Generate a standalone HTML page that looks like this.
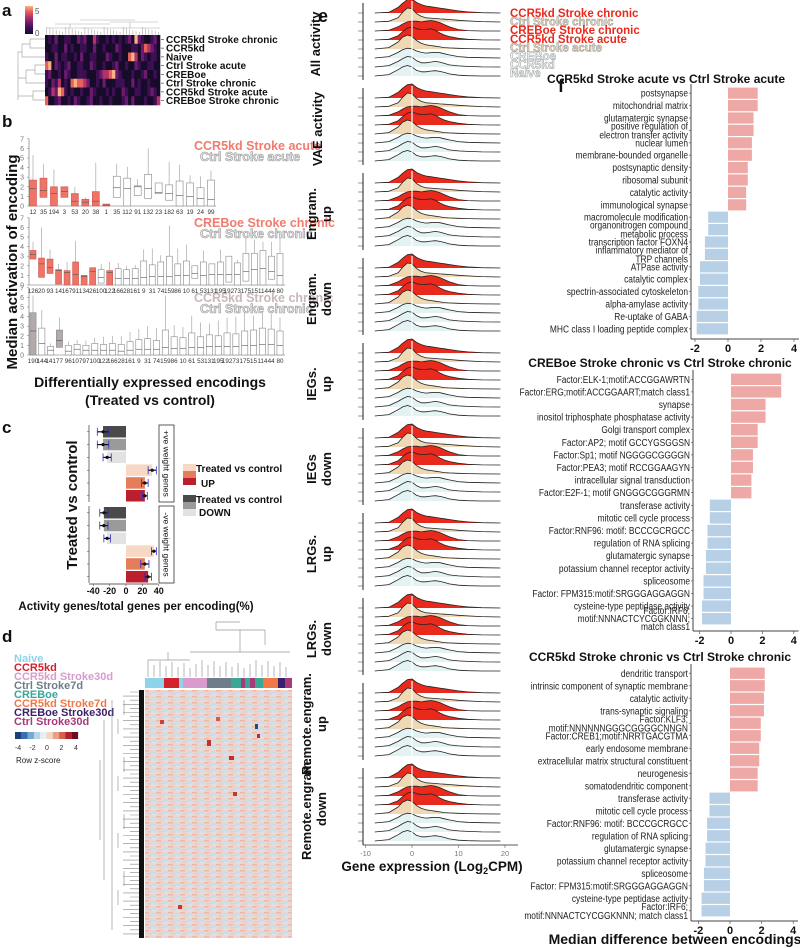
<!DOCTYPE html>
<html><head><meta charset="utf-8">
<style>
html,body{margin:0;padding:0;background:#fff}
svg{display:block;font-family:"Liberation Sans",Arial,sans-serif}
</style></head>
<body>
<svg id="fig" width="800" height="948" viewBox="0 0 800 948" xmlns="http://www.w3.org/2000/svg">
<defs>
<pattern id="hmtex" width="12" height="6" patternUnits="userSpaceOnUse">
<rect width="12" height="6" fill="#ead6d3"/>
<rect x="0" y="0" width="5" height="1.5" fill="#efb9a6"/>
<rect x="6" y="1.5" width="6" height="1.5" fill="#c7deed"/>
<rect x="2" y="3" width="5" height="1.5" fill="#f2cbbd"/>
<rect x="8" y="4.5" width="4" height="1.5" fill="#d2e4ef"/>
<rect x="0" y="4.5" width="3" height="1.5" fill="#cfe1ec"/>
</pattern>
</defs>
<g id="panelA"></g>
<g id="panelB"></g>
<g id="panelC"></g>
<g id="panelD"></g>
<g id="panelE"></g>
<g id="panelF"></g>
</svg>
<script>
// ---------- DATA ----------
const aRows = ["CCR5kd Stroke chronic","CCR5kd","Naive","Ctrl Stroke acute","CREBoe","Ctrl Stroke chronic","CCR5kd Stroke acute","CREBoe Stroke chronic"];
const aMatrix = [
"010200110021200310010101012052100120",
"001100201001100200100021000110243210",
"100201100102001100021001004530210110",
"450210120011002100100120010021001100",
"120010210011100012334521000100120010",
"102130104544320010200011100201001000",
"013254101001002100010100210011001210",
"400120010210012001001000120200010013"
];
const b1Labels = ["12","35","194","3","53","20","38","1","35","112","91","132","23","182","63","19","24","99"];
const b1Q1  = [0,0.9,0,0.9,0,0,0,0,0.9,0,1.1,0.8,1.3,0.6,0,0,0,0];
const b1Med = [1.8,1.6,1.3,1.5,0.5,0.4,0.5,0.1,1.9,1.8,2,1.8,1.4,1.3,1.1,1,0.8,0.7];
const b1Q3  = [2.7,2.9,2,2,1.3,0.7,1.5,0.2,3.1,2.9,2.1,3.3,2.4,2.2,2.6,2.4,1.9,2.7];
const b1Hi  = [5.3,4.4,3.8,2,2,0.9,4.5,0.2,4.4,4.1,2.8,6,2.4,4.6,4.3,3.2,3.1,3.7];
const b1Fill= [1,1,1,1,1,1,1,1,0,0,0,0,0,0,0,0,0,0];
const b2Labels = ["126","20","93","14","167","91","134","26","100","122","166","28","161","9","31","74","159","86","10","61","53","131","195","192","73","175","15","114","44","80"];
const b2Q1  = [2.7,0.8,1.2,0.1,0,0,0,0,0.2,0,0,0,0,0,0,0,0,0,0,0.7,0,0,0,0.3,0,0.4,0,0,0.6,0];
const b2Med = [3.2,2.2,1.8,1.5,1.3,1.1,0.9,1.4,0.8,1.3,0.7,0.7,0.7,0.8,0.9,0.9,0.9,1,1,1.2,1,1.1,1.1,1.1,1.1,1.4,1.6,1.7,1.4,1];
const b2Q3  = [3.6,2.8,2.7,1.6,1.5,2.4,1,1.8,1.6,1.5,1.7,1.6,1.7,2.5,2.1,2.4,3,2.2,2.5,2,2.4,2.2,2.4,3,2.3,3.3,3.3,3.6,3,3.3];
const b2Hi  = [4.5,6,3.7,2.2,2.4,4.6,1,1.8,2.2,2.4,2.3,2,2.1,3.7,3.8,3.1,6.2,3.8,4.2,2,3.6,2.2,3.7,3,2.6,4.9,4.7,4.5,4.5,5.5];
const b2Fill= [1,1,1,1,1,1,1,1,0,1,0,0,0,0,0,0,0,0,0,0,0,0,0,0,0,0,0,0,0,0];
const b3Labels = ["190","144","141","77","96","107","97","100","122","166","28","161","9","31","74","159","86","10","61","53","131","195","192","73","175","15","114","44","80"];
const b3Q1  = [0,0,0,0.8,0,0,0,0,0,0,0,0,0,0,0,0,0,0,0,0,0,0,0,0,0,0,0,0,0];
const b3Med = [2.5,1.2,0.5,1.5,0.4,0.6,0.5,0.5,0.5,0.5,0.4,0.5,0.6,0.6,0.6,0.8,0.7,0.7,0.8,0.8,0.9,0.9,0.9,0.9,1,1,1.1,1.1,1];
const b3Q3  = [4.4,2.8,0.9,2.6,1,1.1,1,1.2,1.1,1.2,1.1,1.4,1.6,1.7,1.5,2.6,1.9,1.8,2.3,1.9,2.1,2,2.3,2.2,2.5,2.6,2.8,2.7,2.5];
const b3Hi  = [6.2,4.7,1.2,3.9,1.4,1.6,1.5,1.8,1.9,2,2,2.4,2.7,3,2.8,6.2,3.1,2.9,4.1,3.4,3.3,3.6,3.9,4,4.7,4.1,4.6,4.3,3.9];
const b3Fill= [2,0,0,2,0,0,0,0,0,0,0,0,0,0,0,0,0,0,0,0,0,0,0,0,0,0,0,0,0];
const cPos = [-28,-28,-23,32,23,23];
const cNeg = [-27,-27,-23,34,23,27];
const cErrPos = [7,7,5,5,4,3];
const cErrNeg = [5,5,4,3,5,4];
const ridgeX = [-8,-5,-3,-2,-1,0,1,2,3,4,5,6,7,8,10,12,15,19];
const ridgeRows = [
[0,0.05,0.4,0.7,0.95,1,0.75,0.6,0.5,0.45,0.4,0.35,0.3,0.25,0.15,0.08,0.02,0],
[0,0.05,0.3,0.7,1,0.95,0.6,0.4,0.3,0.28,0.25,0.22,0.2,0.18,0.12,0.08,0.03,0],
[0,0.05,0.3,0.5,0.65,0.7,0.7,0.65,0.7,0.75,0.7,0.6,0.45,0.3,0.1,0.03,0,0],
[0,0.05,0.3,0.6,0.85,0.95,0.8,0.75,0.75,0.8,0.7,0.5,0.35,0.25,0.12,0.05,0.01,0],
[0,0.1,0.5,0.85,1,0.9,0.6,0.4,0.3,0.25,0.2,0.15,0.1,0.08,0.05,0.03,0.01,0],
[0,0.1,0.4,0.6,0.7,0.65,0.5,0.4,0.35,0.38,0.4,0.38,0.3,0.22,0.1,0.05,0.02,0],
[0,0.1,0.4,0.6,0.75,0.7,0.45,0.3,0.3,0.35,0.4,0.35,0.25,0.15,0.08,0.04,0.01,0],
[0,0.1,0.45,0.65,0.75,0.65,0.4,0.3,0.3,0.35,0.38,0.33,0.25,0.15,0.06,0.02,0,0]
];
const ridgeGroups = [["All activity"],["VAE activity"],["Engram.","up"],["Engram.","down"],["IEGs.","up"],["IEGs","down"],["LRGs.","up"],["LRGs.","down"],["Remote.engram.","up"],["Remote.engram.","down"]];
const f1Labels = ["postsynapse","mitochondrial matrix","glutamatergic synapse","positive regulation of|electron transfer activity","nuclear lumen","membrane-bounded organelle","postsynaptic density","ribosomal subunit","catalytic activity","immunological synapse","macromolecule modification","organonitrogen compound|metabolic process","transcription factor FOXN4","inflammatory mediator of|TRP channels","ATPase activity","catalytic complex","spectrin-associated cytoskeleton","alpha-amylase activity","Re-uptake of GABA","MHC class I loading peptide complex"];
const f1Values = [1.8,1.8,1.55,1.55,1.45,1.45,1.2,1.2,1.1,1.1,-1.2,-1.2,-1.4,-1.4,-1.7,-1.7,-1.8,-1.8,-1.9,-1.9];
const f2Labels = ["Factor:ELK-1;motif:ACCGGAWRTN","Factor:ERG;motif:ACCGGAART;match class1","synapse","inositol triphosphate phosphatase activity","Golgi transport complex","Factor:AP2; motif GCCYGSGGSN","Factor:Sp1; motif NGGGGCGGGGN","Factor:PEA3; motif RCCGGAAGYN","intracellular signal transduction","Factor:E2F-1; motif GNGGGCGGGRMN","transferase activity","mitotic cell cycle process","Factor:RNF96: motif: BCCCGCRGCC","regulation of RNA splicing","glutamatergic synapse","potassium channel receptor activity","spliceosome","Factor: FPM315:motif:SRGGGAGGAGGN","cysteine-type peptidase activity","Factor:IRF6;|motif:NNNACTCYCGGKNNN;|match class1"];
const f2Values = [3.2,3.2,2.2,2.2,1.7,1.7,1.4,1.4,1.3,1.3,-1.35,-1.35,-1.5,-1.5,-1.6,-1.6,-1.75,-1.75,-1.85,-1.85];
const f3Labels = ["dendritic transport","intrinsic component of synaptic membrane","catalytic activity","trans-synaptic signaling","Factor:KLF3;|motif:NNNNNNGGGCGGGGCNNGN","Factor:CREB1;motif:NRRTGACGTMA","early endosome membrane","extracellular matrix structural constituent","neurogenesis","somatodendritic component","transferase activity","mitotic cell cycle process","Factor:RNF96: motif: BCCCGCRGCC","regulation of RNA splicing","glutamatergic synapse","potassium channel receptor activity","spliceosome","Factor: FPM315:motif:SRGGGAGGAGGN","cysteine-type peptidase activity","Factor:IRF6;|motif:NNNACTCYCGGKNNN; match class1"];
const f3Values = [2.2,2.2,2.15,2.15,1.95,1.95,1.85,1.85,1.75,1.75,-1.3,-1.3,-1.45,-1.45,-1.55,-1.55,-1.65,-1.65,-1.8,-1.8];
const fTicks = [-2,0,2,4];

// ---------- HELPERS ----------
const NS="http://www.w3.org/2000/svg";
function mk(parent,tag,attrs,txt){const e=document.createElementNS(NS,tag);for(const k in attrs)e.setAttribute(k,attrs[k]);if(txt!==undefined)e.textContent=txt;parent.appendChild(e);return e;}
function txt(parent,x,y,s,size,opts){opts=opts||{};const e=mk(parent,'text',{x:x,y:y,'font-size':size,fill:opts.fill||'#111','font-weight':opts.bold?'bold':'normal','text-anchor':opts.anchor||'start'},s);if(opts.stroke){e.setAttribute('stroke',opts.stroke);e.setAttribute('stroke-width',opts.sw||0.6);}if(opts.tr)e.setAttribute('transform',opts.tr);return e;}

// ---------- PANEL A ----------
(function(){
const g=document.getElementById('panelA');
const l=txt(g,2,16,'a',17,{bold:true});
const cmap=['#160b28','#3b0f52','#6b1a6e','#b0336a','#e8605a','#fbb480'];
const grad=mk(g,'linearGradient',{id:'magma',x1:0,y1:1,x2:0,y2:0});
cmap.forEach((c,i)=>mk(grad,'stop',{offset:i/5,'stop-color':c}));
const cb=mk(g,'rect',{x:25,y:6,width:8,height:28,fill:'url(#magma)'});

txt(g,35,14,'5',8,{fill:'#555'});txt(g,35,36,'0',8,{fill:'#555'});
const x0=45,y0=35,w=115,h=70,nc=aMatrix[0].length,cw=w/nc,rh=h/aRows.length;
aMatrix.forEach((row,r)=>{[...row].forEach((d,c)=>{const e=mk(g,'rect',{x:x0+c*cw,y:y0+r*rh,width:cw+0.3,height:rh+0.3,fill:cmap[+d]});});
 const t=txt(g,166,y0+r*rh+rh/2+3.5,aRows[r],10,{bold:true});
 mk(g,'line',{x1:161,x2:164,y1:y0+r*rh+rh/2,y2:y0+r*rh+rh/2,stroke:'#333','stroke-width':0.6});});
let p='';for(let i=0;i<nc;i++){const x=x0+cw*(i+0.5);p+=`M${x} 35V${27+((i*7)%6)}`;}
p+='M46 28H160M55 24H110M110 22H158M80 20H135M70 24V28M130 22V28';
mk(g,'path',{d:p,stroke:'#aaa','stroke-width':0.6,fill:'none'});
mk(g,'path',{d:'M45 39H30V48H45M30 44H22V57H45M22 52H18V100M45 65H35V74H45M35 70H26V83H45M26 78H18M45 91H33V100H45M33 96H18',stroke:'#aaa','stroke-width':0.7,fill:'none'});
})();

// ---------- PANEL B ----------
(function(){
const g=document.getElementById('panelB');
const l=txt(g,2,127,'b',17,{bold:true});
const subs=[
 {L:b1Labels,q1:b1Q1,md:b1Med,q3:b1Q3,hi:b1Hi,f:b1Fill,y0:206,xs:33,xe:211,ax:29,t1:'CCR5kd Stroke acute',t2:'Ctrl Stroke acute',ty:150,c1:'#f07b6e'},
 {L:b2Labels,q1:b2Q1,md:b2Med,q3:b2Q3,hi:b2Hi,f:b2Fill,y0:285,xs:33,xe:280,ax:29,t1:'CREBoe Stroke chronic',t2:'Ctrl Stroke chronic',ty:227,c1:'#f07b6e'},
 {L:b3Labels,q1:b3Q1,md:b3Med,q3:b3Q3,hi:b3Hi,f:b3Fill,y0:355,xs:33,xe:280,ax:29,t1:'CCR5kd Stroke chronic',t2:'Ctrl Stroke chronic',ty:302,c1:'#c8b8b8'}
];
const u=9.6;
subs.forEach((s,si)=>{
 const sg=mk(g,'g',{});
 const yv=v=>s.y0-v*u;
 mk(sg,'line',{x1:s.ax,x2:s.ax,y1:yv(7),y2:s.y0,stroke:'#666','stroke-width':0.6});
 mk(sg,'line',{x1:s.ax,x2:s.xe+5,y1:s.y0,y2:s.y0,stroke:'#666','stroke-width':0.6});
 for(let t=0;t<=7;t++){txt(sg,24,yv(t)+2.5,String(t),7,{fill:'#777',anchor:'end'});mk(sg,'line',{x1:s.ax-2,x2:s.ax,y1:yv(t),y2:yv(t),stroke:'#777','stroke-width':0.5});}
 const n=s.L.length,step=(s.xe-s.xs)/(n-1),bw=Math.min(7,step*0.7);
 s.L.forEach((lab,i)=>{
  const cx=s.xs+i*step;
  const fill=s.f[i]===1?'#ee7466':(s.f[i]===2?'#b5aaaa':'#fff');
  mk(sg,'line',{x1:cx,x2:cx,y1:yv(s.hi[i]),y2:yv(s.q3[i]),stroke:'#999','stroke-width':0.6});
  const b=mk(sg,'rect',{x:cx-bw/2,y:yv(s.q3[i]),width:bw,height:Math.max(0.5,(s.q3[i]-s.q1[i])*u),fill:fill,stroke:s.f[i]===1?'#c55':'#888','stroke-width':0.6});
  
  mk(sg,'line',{x1:cx-bw/2,x2:cx+bw/2,y1:yv(s.md[i]),y2:yv(s.md[i]),stroke:'#555','stroke-width':0.6});
  txt(sg,cx,s.y0+8,lab,6.3,{fill:'#333',anchor:'middle'});
 });
 const a=txt(sg,s.ax+165,s.ty,s.t1,12.5,{bold:true,fill:s.c1});
 const b2=txt(sg,s.ax+171,s.ty+11,s.t2,12.5,{bold:true,fill:'#e6e6e6',stroke:'#999',sw:0.6});
});
const yt=txt(g,0,0,'Median activation of encoding',15,{bold:true,anchor:'middle',tr:'translate(17,262) rotate(-90)'});

const xt=txt(g,150,387,'Differentially expressed encodings',14,{bold:true,anchor:'middle'});
const xt2=txt(g,150,405,'(Treated vs control)',14,{bold:true,anchor:'middle'});
})();

// ---------- PANEL C ----------
(function(){
const g=document.getElementById('panelC');
const l=txt(g,2,433,'c',17,{bold:true});
const cols=['#4a4a4a','#9a9a9a','#e2e2e2','#f7d8c5','#e57d5c','#bb1f2d'];
const x0=126,k=0.82;const xv=v=>x0+v*k;
const facets=[{vals:cPos,err:cErrPos,top:425,lab:'+ve weight genes'},{vals:cNeg,err:cErrNeg,top:506,lab:'-ve weight genes'}];
facets.forEach((f,fi)=>{
 const fg=mk(g,'g',{});
 const sp=12.8;
 f.vals.forEach((v,i)=>{
  const y=f.top+1+i*sp;
  const b=mk(fg,'rect',{x:Math.min(xv(0),xv(v)),y:y,width:Math.abs(v)*k,height:11.5,fill:cols[i]});
  
  const ym=y+5.8;
  mk(fg,'line',{x1:xv(v-f.err[i]),x2:xv(v+f.err[i]),y1:ym,y2:ym,stroke:'#111','stroke-width':1.2});
  mk(fg,'line',{x1:xv(v-f.err[i]),x2:xv(v-f.err[i]),y1:ym-4,y2:ym+4,stroke:'#2a2ad0','stroke-width':0.8});
  mk(fg,'line',{x1:xv(v+f.err[i]),x2:xv(v+f.err[i]),y1:ym-4,y2:ym+4,stroke:'#2a2ad0','stroke-width':0.8});
  mk(fg,'circle',{cx:xv(v),cy:ym,r:1.6,fill:'#111'});
  mk(fg,'line',{x1:87,x2:89,y1:ym,y2:ym,stroke:'#333','stroke-width':0.5});
 });
 mk(fg,'line',{x1:89,x2:89,y1:f.top,y2:f.top+77,stroke:'#333','stroke-width':0.7});
 mk(fg,'rect',{x:159,y:f.top,width:15,height:77,fill:'#fff',stroke:'#333','stroke-width':0.8});
 txt(fg,0,0,f.lab,8.5,{anchor:'middle',tr:`translate(163.5,${f.top+38.5}) rotate(90)`});
});
mk(g,'line',{x1:89,x2:158,y1:584,y2:584,stroke:'#333','stroke-width':0.7});
[-40,-20,0,20,40].forEach(t=>{mk(g,'line',{x1:xv(t),x2:xv(t),y1:584,y2:586,stroke:'#333','stroke-width':0.5});txt(g,xv(t),594,String(t),9,{bold:true,anchor:'middle'});});
const yt=txt(g,0,0,'Treated vs control',15,{bold:true,anchor:'middle',tr:'translate(77,505) rotate(-90)'});
const xt=txt(g,136,610,'Activity genes/total genes per encoding(%)',11.5,{bold:true,anchor:'middle'});
const lg=mk(g,'g',{});
[['#f7d8c5',464],['#e57d5c',471],['#bb1f2d',478],['#4a4a4a',495],['#9a9a9a',502],['#e2e2e2',509]].forEach(a=>mk(lg,'rect',{x:183,y:a[1],width:13,height:7,fill:a[0]}));
txt(lg,196,472,'Treated vs control',10,{bold:true});txt(lg,201,487,'UP',10,{bold:true});
txt(lg,196,503,'Treated vs control',10,{bold:true});txt(lg,199,516,'DOWN',10,{bold:true});
})();

// ---------- PANEL D ----------
(function(){
const g=document.getElementById('panelD');
const l=txt(g,2,642,'d',17,{bold:true});
const groups=[['Naive','#8fd3ea'],['CCR5kd','#d1222b'],['CCR5kd Stroke30d','#d99bcc'],['Ctrl Stroke7d','#6f7c8a'],['CREBoe','#3aa796'],['CCR5kd Stroke7d','#f07846'],['CREBoe Stroke30d','#3b1f6b'],['Ctrl Stroke30d','#a8397a']];
groups.forEach((gr,i)=>{const t=txt(g,14,662+i*9,gr[0],11,{bold:true,fill:gr[1]});});
const zc=['#1f3f7a','#3b6fb0','#77a9d1','#b9d6e8','#e8eef2','#f4d6c6','#e9a184','#d7604d','#b21f2d','#6b0f1f'];
zc.forEach((c,i)=>mk(g,'rect',{x:15+i*6.3,y:732,width:6.4,height:7,fill:c}));
[-4,-2,0,2,4].forEach((t,i)=>txt(g,18+i*14.5,750,String(t),7,{anchor:'middle',fill:'#333'}));
txt(g,16,763,'Row z-score',8,{fill:'#222'});
const hm=mk(g,'rect',{x:145,y:690,width:147,height:248,fill:'url(#hmtex)'});
[[160,720,4,4,'#d0403a'],[207,740,4,6,'#c8302b'],[216,717,4,4,'#d55a45'],[229,756,5,4,'#c42d2a'],[255,724,3,5,'#1f4a8a'],[257,734,3,4,'#c72a2a'],[233,792,4,4,'#c43a2a'],[178,905,4,4,'#c43a2a']].forEach(a=>mk(g,'rect',{x:a[0],y:a[1],width:a[2],height:a[3],fill:a[4]}));
const seg=[[145,164,0],[164,179,1],[179,183,0],[183,207,2],[207,231,3],[231,241,4],[241,245,7],[245,250,4],[250,255,7],[255,263,4],[263,278,5],[278,285,6],[285,292,7]];
seg.forEach(s=>{const r=mk(g,'rect',{x:s[0],y:678,width:s[1]-s[0],height:10,fill:groups[s[2]][1]});});
mk(g,'rect',{x:139,y:690,width:5,height:248,fill:'#111'});
let p='';for(let i=0;i<24;i++){const x=148+i*6;p+=`M${x} 677V${660+((i*5)%9)}`;}
p+='M148 660H190M190 652H290M168 652V660M240 645V652M216 630H265M240 630V645M265 630V645M216 622V630M216 622H240';
mk(g,'path',{d:p,stroke:'#999','stroke-width':0.7,fill:'none'});
let q='';for(let i=0;i<60;i++){const y=692+i*4.1;q+=`M139 ${y}H${130-((i*7)%14)}`;}
for(let i=0;i<12;i++){const y=700+i*19;q+=`M${124-(i%3)*6} ${y}V${y+15}`;}
q+='M112 700V930M104 720V880M100 760V840';
mk(g,'path',{d:q,stroke:'#888','stroke-width':0.6,fill:'none'});
})();

// ---------- PANEL E ----------
(function(){
const g=document.getElementById('panelE');
const l=txt(g,318,22,'e',18,{bold:true});
const x0=412,kx=4.65,sy=9,hs=14,gap=85;
const xv=v=>x0+v*kx;
const fills=['#e8291c','#efd9b5','#e8291c','#e8291c','#efd9b5','#e3f2f3','#e3f2f3','#e3f2f3'];
ridgeGroups.forEach((grp,gi)=>{
 const gg=mk(g,'g',{});
 const top=13+gi*gap;
 ridgeRows.forEach((row,r)=>{
  const base=top+r*sy;
  let d=`M${xv(ridgeX[0])} ${base}`;
  ridgeX.forEach((xx,i)=>{d+=` L${xv(xx).toFixed(1)} ${(base-row[i]*hs).toFixed(1)}`;});
  const area=mk(gg,'path',{d:d+` L${xv(ridgeX[ridgeX.length-1])} ${base}Z`,fill:fills[r],stroke:'none'});
  
  mk(gg,'path',{d:d,fill:'none',stroke:'#222','stroke-width':0.8,'stroke-linejoin':'round'});
  mk(gg,'line',{x1:358,x2:363,y1:base,y2:base,stroke:'#555','stroke-width':0.6});
 });
 mk(gg,'line',{x1:xv(0),x2:xv(0),y1:top-12,y2:top+7*sy,stroke:'#fff','stroke-width':1.2});
 mk(gg,'line',{x1:363,x2:363,y1:top-10,y2:top+7*sy+4,stroke:'#222','stroke-width':1});
 const cy=top+31;
 if(grp.length===1){txt(gg,0,0,grp[0],13,{bold:true,anchor:'middle',tr:`translate(${gi===0?320:322},${cy}) rotate(-90)`});}
 else{txt(gg,0,0,grp[0],13,{bold:true,anchor:'middle',tr:`translate(${gi>=8?311:316},${cy}) rotate(-90)`});txt(gg,0,0,grp[1],13,{bold:true,anchor:'middle',tr:`translate(${gi>=8?326:331},${cy}) rotate(-90)`});}
});
mk(g,'line',{x1:363,x2:518,y1:845,y2:845,stroke:'#222','stroke-width':0.8});
[-10,0,10,20].forEach(t=>{mk(g,'line',{x1:xv(t),x2:xv(t),y1:845,y2:848,stroke:'#444','stroke-width':0.5});txt(g,xv(t),856,String(t),7.5,{anchor:'middle',fill:'#777'});});
const xt=mk(g,'text',{x:432,y:871,'font-size':13.5,'font-weight':'bold','text-anchor':'middle',fill:'#111'});

xt.innerHTML='Gene expression (Log<tspan font-size="9" dy="3">2</tspan><tspan dy="-3">CPM)</tspan>';
const leg=[['CCR5kd Stroke chronic','#e8291c',0],['Ctrl Stroke chronic','#e3d2b5',1],['CREBoe Stroke chronic','#e8291c',0],['CCR5kd Stroke acute','#e8291c',0],['Ctrl Stroke acute','#e3d2b5',1],['CREBoe','#eef6f7',1],['CCR5kd','#eef6f7',1],['Naive','#eef6f7',1]];
leg.forEach((e,i)=>{const t=txt(g,510,17+i*8.6,e[0],11.5,{bold:true,fill:e[1],stroke:e[2]?'#999':null,sw:0.5});});
})();

// ---------- PANEL F ----------
(function(){
const g=document.getElementById('panelF');
const l=txt(g,558,92,'f',18,{bold:true});
const charts=[
 {L:f1Labels,V:f1Values,title:'CCR5kd Stroke acute vs Ctrl Stroke acute',ty:83,zero:728,k:16.5,axL:691,y0:87,y1:335,ax:339,tx:666},
 {L:f2Labels,V:f2Values,title:'CREBoe Stroke chronic vs Ctrl Stroke chronic',ty:367,zero:731,k:15.7,axL:693,y0:373,y1:625,ax:631,tx:660},
 {L:f3Labels,V:f3Values,title:'CCR5kd Stroke chronic vs Ctrl Stroke chronic',ty:661,zero:730,k:15.8,axL:691,y0:667,y1:917,ax:921,tx:660}
];
charts.forEach((c,ci)=>{
 const cg=mk(g,'g',{});
 const tt=txt(cg,c.tx,c.ty,c.title,12,{bold:true,anchor:'middle'});
 const xv=v=>c.zero+v*c.k;
 const n=c.V.length,sp=(c.y1-c.y0)/n;
 c.V.forEach((v,i)=>{
  const y=c.y0+i*sp;
  const b=mk(cg,'rect',{x:Math.min(xv(0),xv(v)),y:y+0.6,width:Math.abs(v)*c.k,height:sp-1.2,fill:v>0?'#eea9a7':'#b7d0e6'});
  
  const ym=y+sp/2;
  mk(cg,'line',{x1:c.axL-2,x2:c.axL,y1:ym,y2:ym,stroke:'#444','stroke-width':0.6});
  const parts=c.L[i].split('|');
  const lg=mk(cg,'g',{transform:`translate(${c.axL-3},${ym}) scale(0.8,1)`});
  const lh=parts.length>2?8:9;
  parts.forEach((pt,j)=>{txt(lg,0,3.5+(j-(parts.length-1)/2)*lh,pt,10.5,{anchor:'end',fill:'#222'});});
 });
 mk(cg,'line',{x1:c.axL,x2:c.axL,y1:c.y0-3,y2:c.ax,stroke:'#444','stroke-width':1});
 mk(cg,'line',{x1:c.axL,x2:xv(4.3),y1:c.ax,y2:c.ax,stroke:'#444','stroke-width':1});
 fTicks.forEach(t=>{mk(cg,'line',{x1:xv(t),x2:xv(t),y1:c.ax,y2:c.ax+3,stroke:'#444','stroke-width':0.6});txt(cg,xv(t),c.ax+13,String(t),11,{bold:true,anchor:'middle'});});
});
const xt=txt(g,675,944,'Median difference between encodings',14,{bold:true,anchor:'middle'});
})();
</script>
</body></html>
